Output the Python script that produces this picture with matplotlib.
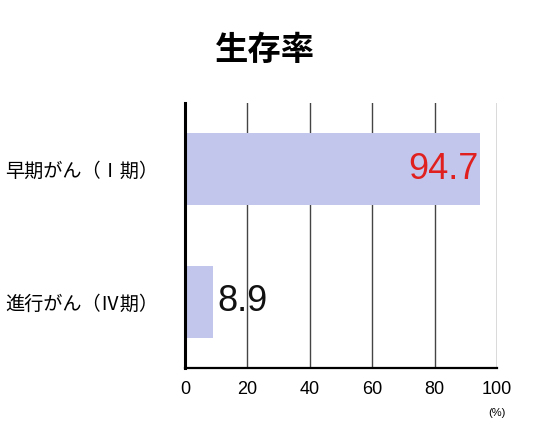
import matplotlib
matplotlib.use("Agg")
import matplotlib.pyplot as plt

plt.rcParams['font.family'] = ['Noto Sans CJK JP', 'DejaVu Sans']

# data
categories = ['進行がん（Ⅳ期）', '早期がん（Ⅰ期）']
values = [8.9, 94.7]
value_colors = ['#111111', '#e0201e']
x_ticks = [0, 20, 40, 60, 80, 100]

fig = plt.figure(figsize=(5.37, 4.24), dpi=100)
ax = fig.add_axes([0.3445, 0.132, 0.581, 0.625])

ax.barh(range(len(categories)), values, height=0.545, color='#c2c5ec', zorder=2)

ax.set_xlim(0, 100)
ax.set_ylim(-0.5, 1.5)
ax.set_xticks(x_ticks)
ax.set_xticklabels([str(t) for t in x_ticks], family=['Liberation Sans'], fontsize=13)
ax.set_yticks(range(len(categories)))
ax.set_yticklabels(categories, fontsize=13.8)
ax.tick_params(axis='both', length=0, pad=9)
ax.tick_params(axis='y', pad=19)

ax.grid(axis='x', color='#444444', linewidth=1.0, zorder=1)
for s in ['top', 'right']:
    ax.spines[s].set_visible(False)
ax.spines['left'].set_linewidth(2.2)
ax.spines['bottom'].set_linewidth(1.6)

# value labels
for i, v in enumerate(values):
    if v > 50:
        ax.text(v - 0.5, i, f'{v}', ha='right', va='center', fontsize=26,
                color=value_colors[i], family=['Liberation Sans'], zorder=3)
    else:
        ax.text(v + 1.5, i, f'{v}', ha='left', va='center', fontsize=26,
                color=value_colors[i], family=['Liberation Sans'], zorder=3)

ax.text(100, -0.8, '(%)', ha='center', va='top', fontsize=8,
        transform=ax.transData, clip_on=False, family=['Liberation Sans'])

fig.text(0.494, 0.88, '生存率', ha='center', va='center', fontsize=24,
         fontweight='bold')

fig.savefig('out.png', dpi=100)
